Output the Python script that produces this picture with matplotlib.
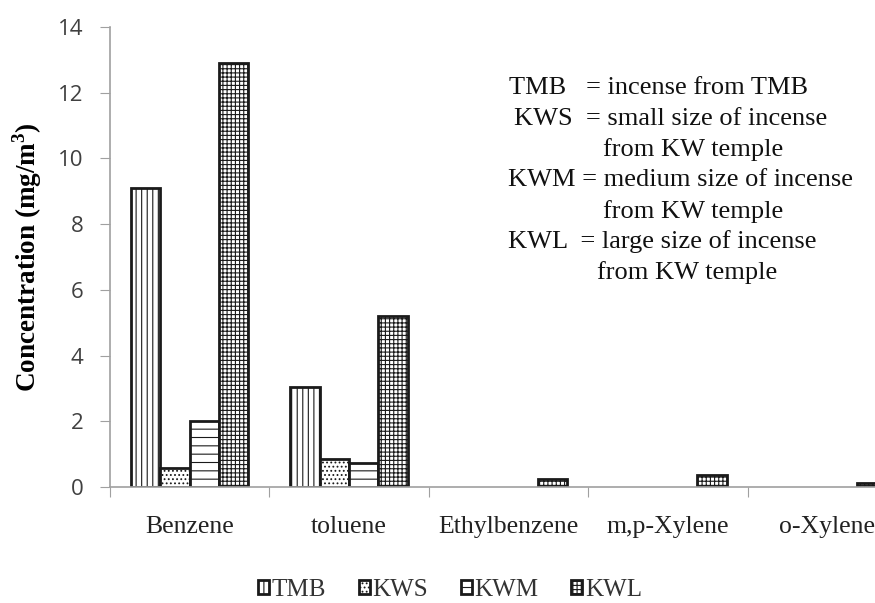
import numpy as np
import matplotlib
matplotlib.use("Agg")
import matplotlib.pyplot as plt

# values
compounds = ["Benzene", "toluene", "Ethylbenzene", "m,p-Xylene", "o-Xylene"]
series = ["TMB", "KWS", "KWM", "KWL"]
tmb = [9.1, 3.04, 0.0, 0.0, 0.0]
kws = [0.58, 0.85, 0.0, 0.0, 0.0]
kwm = [2.0, 0.72, 0.0, 0.0, 0.0]
kwl = [12.9, 5.2, 0.24, 0.36, 0.12]
yticks = [0, 2, 4, 6, 8, 10, 12, 14]

note_lines = [
    "TMB   = incense from TMB",
    "KWS  = small size of incense",
    "from KW temple",
    "KWM = medium size of incense",
    "from KW temple",
    "KWL  = large size of incense",
    "from KW temple",
]
note_x = [509, 514, 603, 508, 603, 508, 597]

plt.rcParams["hatch.linewidth"] = 0.8
serif = "Liberation Serif"

fig = plt.figure(figsize=(8.75, 6.03), dpi=100)
# axes run off the right edge like in the original (o-Xylene cut)
ax = fig.add_axes([110 / 875, 1 - 487 / 603, 797 / 875, 460 / 603])

x = np.arange(len(compounds))
w = 0.184
hatches = ["|||", "....", "--", "++++"]
hcolors = ["#555555", "#1a1a1a", "#1a1a1a", "#1a1a1a"]
data = [tmb, kws, kwm, kwl]
for i, (name, vals) in enumerate(zip(series, data)):
    lw = [2 if v > 0 else 0 for v in vals]
    kw = dict(facecolor="white", edgecolor="#1a1a1a", linewidth=lw,
              hatch=hatches[i], label=name)
    try:
        ax.bar(x + (i - 1.5) * w, vals, w, hatchcolor=hcolors[i], **kw)
    except (AttributeError, TypeError):
        ax.bar(x + (i - 1.5) * w, vals, w, **kw)

ax.set_xlim(-0.5, len(compounds) - 0.5)
ax.set_ylim(0, 14)
ax.set_yticks(yticks)
ax.set_yticklabels([str(t) for t in yticks], fontsize=16, color="#404040",
                   family="Open Sans")
ax.tick_params(axis="y", length=7, color="#a0a0a0", pad=12)

# category boundaries as ticks, names in between
ax.set_xticks(np.arange(len(compounds) + 1) - 0.5)
ax.set_xticklabels([])
ax.tick_params(axis="x", length=7, color="#a0a0a0")
for xi, name in zip(x, compounds):
    ax.text(xi, -0.062, name, transform=ax.get_xaxis_transform(), ha="center",
            va="top", fontsize=18.5, family=serif, color="#222222")

for s in ["top", "right"]:
    ax.spines[s].set_visible(False)
for s in ["left", "bottom"]:
    ax.spines[s].set_color("#a0a0a0")
    ax.spines[s].set_linewidth(1.2)

ax.set_ylabel("Concentration (mg/m$^\\mathregular{3}$)", fontsize=19.5,
              fontweight="bold", family=serif, labelpad=10)

# explanatory note
for k, (line, xs) in enumerate(zip(note_lines, note_x)):
    fig.text(xs / 875, 1 - (88 + k * 30.8) / 603, line, fontsize=19,
             family=serif, va="center", ha="left", color="#111111")

leg = fig.legend(loc="center", bbox_to_anchor=(450 / 875, 1 - 590 / 603), ncol=4,
                 frameon=False, prop={"family": serif, "size": 18},
                 handlelength=0.45, handleheight=0.45, handletextpad=0.1,
                 columnspacing=1.3)
for t in leg.get_texts():
    t.set_color("#333333")

fig.savefig("out.png", dpi=100)
